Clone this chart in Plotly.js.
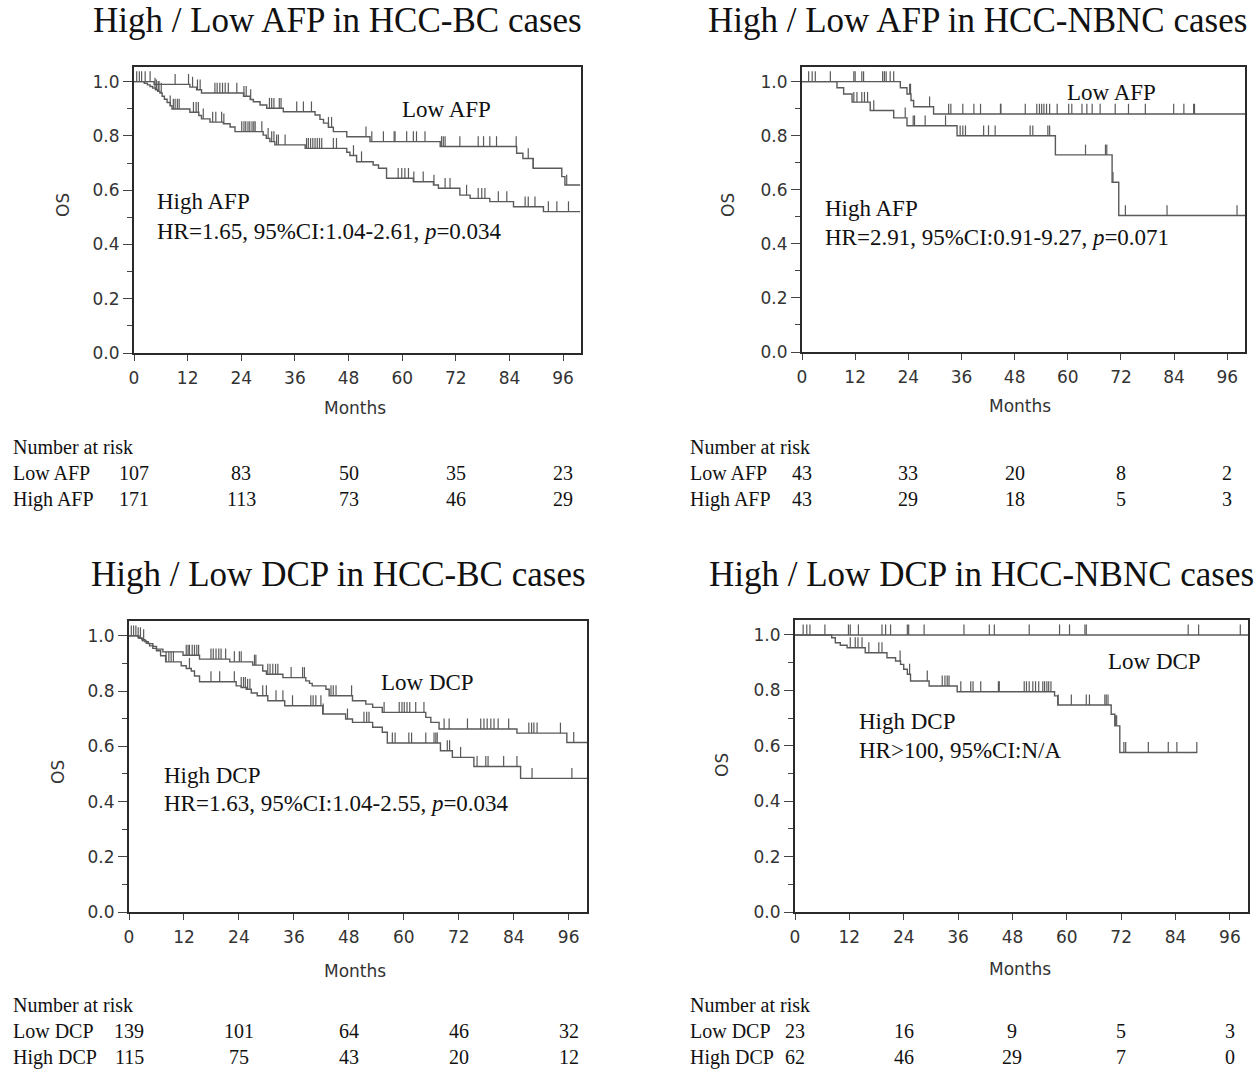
<!DOCTYPE html>
<html><head><meta charset="utf-8">
<script src="https://cdn.plot.ly/plotly-3.0.1.min.js"></script>
<style>html,body{margin:0;padding:0;background:#fff}</style>
</head><body><div id="chart" style="width:1259px;height:1071px"></div>
<script>
// ---------------- DATA ----------------
// Panel A: High / Low AFP in HCC-BC
const afpBC_low_t = [0, 4.5, 12.5, 14.0, 15.1, 24.5, 26.0, 26.7, 28.2, 29.7, 33.4, 40.5, 41.6, 42.4, 43.5, 44.6, 47.6, 52.8, 68.5, 85.6, 87.0, 89.3, 95.7, 96.4, 99.8];
const afpBC_low_s = [1.0, 0.99, 0.98, 0.97, 0.958, 0.946, 0.934, 0.926, 0.914, 0.902, 0.889, 0.877, 0.861, 0.847, 0.832, 0.816, 0.797, 0.779, 0.761, 0.736, 0.717, 0.681, 0.65, 0.619, 0.619];
const afpBC_low_c = [0.6, 1.2, 1.7, 2.5, 3.6, 9.2, 12.2, 13.1, 14.2, 14.8, 18.1, 18.6, 19.2, 19.8, 20.4, 21.1, 23.0, 24.6, 25.1, 26.1, 30.3, 30.8, 31.3, 32.5, 32.9, 36.4, 37.9, 39.7, 43.5, 44.2, 51.9, 53.2, 55.8, 58.2, 58.4, 61.0, 62.5, 63.2, 65.1, 68.8, 69.2, 69.6, 72.9, 77.0, 78.2, 79.6, 81.1, 85.5, 88.2, 89.3, 96.8];
const afpBC_high_t = [0, 2.3, 3.0, 3.6, 4.2, 4.8, 5.3, 5.8, 6.3, 6.8, 7.4, 8.1, 8.5, 12.5, 14.5, 15.1, 17.0, 20.0, 21.5, 22.6, 28.9, 29.6, 30.4, 31.5, 38.3, 47.6, 48.3, 49.8, 53.5, 54.7, 56.5, 62.5, 67.0, 68.1, 72.9, 75.2, 79.6, 84.9, 91.6, 99.8];
const afpBC_high_s = [1.0, 0.994, 0.988, 0.982, 0.976, 0.970, 0.964, 0.958, 0.946, 0.935, 0.923, 0.911, 0.899, 0.887, 0.875, 0.863, 0.851, 0.845, 0.833, 0.816, 0.803, 0.791, 0.779, 0.767, 0.754, 0.740, 0.728, 0.705, 0.693, 0.681, 0.644, 0.631, 0.619, 0.607, 0.582, 0.570, 0.558, 0.539, 0.521, 0.521];
const afpBC_high_c = [4.7, 5.0, 5.4, 5.6, 6.1, 8.1, 8.8, 9.2, 9.7, 10.1, 13.3, 13.9, 14.4, 15.5, 17.6, 18.3, 19.6, 20.1, 24.1, 24.6, 25.0, 25.5, 25.9, 26.4, 26.8, 27.1, 28.6, 30.0, 30.8, 31.3, 31.9, 32.3, 33.8, 38.6, 39.0, 39.5, 40.0, 40.5, 41.0, 41.5, 42.0, 44.6, 45.3, 49.1, 50.9, 59.1, 59.9, 60.6, 61.4, 62.6, 64.7, 67.1, 69.6, 70.7, 74.4, 77.0, 77.8, 78.5, 81.5, 83.4, 87.5, 88.2, 89.7, 92.7, 94.6, 97.2];

// Panel B: High / Low AFP in HCC-NBNC
const afpNB_low_t = [0, 22.2, 23.7, 24.6, 25.2, 29.7, 100];
const afpNB_low_s = [1.0, 0.977, 0.954, 0.930, 0.907, 0.880, 0.880];
const afpNB_low_c = [1.5, 2.3, 3.0, 6.4, 11.7, 12.0, 13.5, 13.9, 18.2, 18.6, 19.0, 19.9, 20.7, 24.3, 24.5, 28.8, 33.1, 33.6, 36.3, 38.8, 40.3, 44.8, 44.9, 50.4, 53.0, 53.6, 54.1, 54.6, 55.2, 55.9, 57.6, 60.2, 60.9, 63.2, 64.3, 65.5, 67.3, 70.7, 73.7, 77.5, 83.9, 86.2, 88.4, 88.6];
const afpNB_high_t = [0, 7.9, 9.4, 11.3, 15.4, 20.7, 23.7, 35.0, 57.2, 70.0, 71.5, 100];
const afpNB_high_s = [1.0, 0.977, 0.954, 0.924, 0.893, 0.866, 0.837, 0.800, 0.729, 0.628, 0.505, 0.505];
const afpNB_high_c = [11.7, 12.4, 13.5, 14.1, 14.8, 16.2, 23.3, 25.1, 25.4, 27.8, 32.4, 35.7, 36.3, 36.9, 41.0, 42.1, 43.6, 51.5, 52.1, 55.5, 55.9, 64.0, 68.5, 68.8, 70.2, 73.0, 82.4, 98.2];

// Panel C: High / Low DCP in HCC-BC
const dcpBC_low_t = [0, 2.0, 2.8, 3.5, 4.2, 5.2, 6.0, 7.4, 11.8, 15.4, 22.0, 27.0, 29.2, 30.0, 33.6, 38.6, 39.4, 40.0, 43.0, 43.7, 48.8, 51.7, 53.2, 55.3, 64.8, 65.9, 67.7, 84.7, 95.6, 100];
const dcpBC_low_s = [1.0, 0.993, 0.986, 0.979, 0.972, 0.962, 0.952, 0.942, 0.930, 0.916, 0.906, 0.894, 0.873, 0.861, 0.849, 0.837, 0.828, 0.819, 0.807, 0.783, 0.765, 0.753, 0.741, 0.723, 0.705, 0.687, 0.663, 0.648, 0.614, 0.614];
const dcpBC_low_c = [0.5, 1.0, 1.5, 2.0, 2.5, 3.2, 12.5, 12.9, 13.2, 13.8, 14.3, 14.8, 15.2, 17.9, 18.4, 19.0, 19.6, 20.1, 21.1, 23.0, 24.1, 24.5, 27.4, 27.7, 30.3, 30.8, 31.4, 32.0, 32.5, 35.4, 37.9, 38.3, 44.1, 44.6, 45.2, 48.6, 55.7, 59.0, 59.6, 60.1, 60.7, 61.3, 62.6, 64.4, 68.8, 69.9, 73.9, 76.8, 77.5, 78.2, 79.0, 79.7, 80.6, 82.9, 87.3, 87.9, 88.4, 89.1, 94.2, 97.1];
const dcpBC_high_t = [0, 2.2, 3.0, 3.8, 4.5, 5.2, 6.0, 6.9, 8.0, 11.4, 12.5, 13.6, 14.3, 15.4, 23.4, 24.5, 25.6, 26.7, 28.0, 30.3, 34.0, 42.3, 47.3, 48.8, 53.2, 55.3, 56.4, 68.0, 70.6, 75.3, 85.5, 100];
const dcpBC_high_s = [1.0, 0.991, 0.982, 0.973, 0.964, 0.955, 0.946, 0.928, 0.906, 0.892, 0.882, 0.873, 0.855, 0.834, 0.819, 0.813, 0.807, 0.793, 0.783, 0.765, 0.747, 0.717, 0.699, 0.687, 0.669, 0.651, 0.612, 0.584, 0.560, 0.527, 0.484, 0.484];
const dcpBC_high_c = [8.1, 8.7, 9.2, 9.7, 13.2, 17.9, 19.8, 23.0, 24.5, 25.0, 25.4, 25.9, 26.4, 29.2, 30.0, 32.1, 33.6, 35.7, 39.7, 40.2, 40.8, 41.9, 42.4, 47.7, 51.3, 51.9, 52.4, 57.5, 58.1, 61.1, 61.7, 64.8, 66.6, 67.0, 67.3, 69.5, 70.0, 72.4, 76.0, 77.9, 78.4, 81.8, 84.7, 88.0, 96.7];

// Panel D: High / Low DCP in HCC-NBNC
const dcpNB_low_t = [0, 100];
const dcpNB_low_s = [1.0, 1.0];
const dcpNB_low_c = [1.8, 2.6, 3.3, 6.6, 11.8, 12.2, 14.0, 19.2, 20.0, 21.1, 24.8, 25.1, 28.5, 37.3, 42.9, 44.0, 51.7, 58.4, 60.6, 64.0, 64.3, 86.8, 89.1, 98.3];
const dcpNB_high_t = [0, 8.1, 8.9, 10.0, 11.5, 15.5, 20.3, 22.2, 23.3, 24.0, 24.8, 25.5, 29.6, 35.8, 57.3, 58.0, 69.8, 70.6, 71.7, 88.8];
const dcpNB_high_s = [1.0, 0.990, 0.972, 0.963, 0.954, 0.936, 0.918, 0.906, 0.894, 0.876, 0.858, 0.834, 0.816, 0.795, 0.780, 0.747, 0.714, 0.672, 0.576, 0.576];
const dcpNB_high_c = [12.2, 13.3, 13.9, 14.8, 16.3, 18.5, 19.2, 23.2, 25.3, 29.2, 32.5, 33.1, 33.6, 34.0, 36.6, 38.8, 39.3, 41.0, 44.9, 45.1, 50.6, 51.1, 51.7, 52.5, 53.1, 53.8, 54.7, 55.1, 55.6, 56.0, 56.5, 58.1, 61.0, 64.3, 65.0, 68.4, 68.7, 69.1, 70.7, 71.0, 72.6, 73.0, 78.0, 82.4, 84.3, 88.7];

// Number at risk
const riskMonths = [0, 24, 48, 72, 96];
const risk_afpBC_low = [107, 83, 50, 35, 23];
const risk_afpBC_high = [171, 113, 73, 46, 29];
const risk_afpNB_low = [43, 33, 20, 8, 2];
const risk_afpNB_high = [43, 29, 18, 5, 3];
const risk_dcpBC_low = [139, 101, 64, 46, 32];
const risk_dcpBC_high = [115, 75, 43, 20, 12];
const risk_dcpNB_low = [23, 16, 9, 5, 3];
const risk_dcpNB_high = [62, 46, 29, 7, 0];

const titles = ["High / Low AFP in HCC-BC cases", "High / Low AFP in HCC-NBNC cases", "High / Low DCP in HCC-BC cases", "High / Low DCP in HCC-NBNC cases"];
const xTicks = [0, 12, 24, 36, 48, 60, 72, 84, 96];
const yTicks = [0, 0.2, 0.4, 0.6, 0.8, 1.0];

// ---------------- LAYOUT / DRAW ----------------
const W = 1259, H = 1071;
const LC = '#5a5a5a';
function survAt(t, s, x) { let v = s[0]; for (let i = 0; i < t.length; i++) { if (t[i] <= x) v = s[i]; } return v; }

const panels = [
  {ax: '', lowT: afpBC_low_t, lowS: afpBC_low_s, lowC: afpBC_low_c, highT: afpBC_high_t, highS: afpBC_high_s, highC: afpBC_high_c,
   px: [134, 581], py: [67, 353], title: titles[0], tx: 337, ty: 20,
   labLow: 'Low AFP', labHigh: 'High AFP', lowPos: [59.5, 0.896], highPos: [4.7, 0.557], hr: 'HR=1.65, 95%CI:1.04-2.61, <i>p</i>=0.034', hrY: 0.446,
   osX: 63, osY: 205, mX: 355, mY: 408, tabX: 11, tabY: 447, rowLow: risk_afpBC_low, rowHigh: risk_afpBC_high, rowNames: ['Low AFP', 'High AFP']},
  {ax: '2', lowT: afpNB_low_t, lowS: afpNB_low_s, lowC: afpNB_low_c, highT: afpNB_high_t, highS: afpNB_high_s, highC: afpNB_high_c,
   px: [802, 1245], py: [67, 352], title: titles[1], tx: 977, ty: 20,
   labLow: 'Low AFP', labHigh: 'High AFP', lowPos: [59.4, 0.959], highPos: [4.8, 0.531], hr: 'HR=2.91, 95%CI:0.91-9.27, <i>p</i>=0.071', hrY: 0.424,
   osX: 728, osY: 205, mX: 1020, mY: 406, tabX: 688, tabY: 447, rowLow: risk_afpNB_low, rowHigh: risk_afpNB_high, rowNames: ['Low AFP', 'High AFP']},
  {ax: '3', lowT: dcpBC_low_t, lowS: dcpBC_low_s, lowC: dcpBC_low_c, highT: dcpBC_high_t, highS: dcpBC_high_s, highC: dcpBC_high_c,
   px: [129, 587], py: [621, 912], title: titles[2], tx: 338, ty: 574,
   labLow: 'Low DCP', labHigh: 'High DCP', lowPos: [54.6, 0.831], highPos: [7.1, 0.496], hr: 'HR=1.63, 95%CI:1.04-2.55, <i>p</i>=0.034', hrY: 0.392,
   osX: 58, osY: 772, mX: 355, mY: 971, tabX: 11, tabY: 1005, rowLow: risk_dcpBC_low, rowHigh: risk_dcpBC_high, rowNames: ['Low DCP', 'High DCP']},
  {ax: '4', lowT: dcpNB_low_t, lowS: dcpNB_low_s, lowC: dcpNB_low_c, highT: dcpNB_high_t, highS: dcpNB_high_s, highC: dcpNB_high_c,
   px: [795, 1248], py: [620, 912], title: titles[3], tx: 981, ty: 574,
   labLow: 'Low DCP', labHigh: 'High DCP', lowPos: [68.7, 0.906], highPos: [13.7, 0.687], hr: 'HR>100, 95%CI:N/A', hrY: 0.583,
   osX: 722, osY: 765, mX: 1020, mY: 969, tabX: 688, tabY: 1005, rowLow: risk_dcpNB_low, rowHigh: risk_dcpNB_high, rowNames: ['Low DCP', 'High DCP']}
];

const traces = [];
const annotations = [];
const layout = {
  width: W, height: H, margin: {l: 0, r: 0, t: 0, b: 0}, paper_bgcolor: '#fff', plot_bgcolor: '#fff',
  showlegend: false, hovermode: false, annotations: annotations,
  font: {family: 'DejaVu Sans', color: '#333'}
};
const serif = 'Liberation Serif, Times New Roman, serif';
const sans = 'DejaVu Sans, Verdana, sans-serif';

panels.forEach(p => {
  const xa = 'x' + p.ax, ya = 'y' + p.ax;
  layout['xaxis' + p.ax] = {
    domain: [p.px[0] / W, p.px[1] / W], anchor: ya, range: [0, 100],
    tickvals: xTicks, ticktext: xTicks.map(String), ticks: 'outside', ticklen: 6, tickwidth: 1, tickcolor: '#444',
    showline: true, linewidth: 2, linecolor: '#2a2a2a', mirror: true, showgrid: false, zeroline: false,
    tickfont: {family: sans, size: 17, color: '#333'}, ticklabelstandoff: 3, fixedrange: true
  };
  layout['yaxis' + p.ax] = {
    domain: [1 - p.py[1] / H, 1 - p.py[0] / H], anchor: xa, range: [0, 1.054],
    tickvals: yTicks, tickformat: '.1f', ticks: 'outside', ticklen: 9, tickwidth: 1, tickcolor: '#444',
    minor: {tickvals: [0.1, 0.3, 0.5, 0.7, 0.9], ticks: 'outside', ticklen: 5, tickcolor: '#444', tickwidth: 1},
    showline: true, linewidth: 2, linecolor: '#2a2a2a', mirror: true, showgrid: false, zeroline: false,
    tickfont: {family: sans, size: 17, color: '#333'}, fixedrange: true
  };
  [[p.lowT, p.lowS, p.lowC], [p.highT, p.highS, p.highC]].forEach(([t, s, c]) => {
    traces.push({type: 'scatter', mode: 'lines', x: t, y: s, xaxis: xa, yaxis: ya,
      line: {shape: 'hv', color: LC, width: 1.4}, hoverinfo: 'skip'});
    traces.push({type: 'scatter', mode: 'markers', x: c, y: c.map(v => survAt(t, s, v)), xaxis: xa, yaxis: ya,
      marker: {size: 1, color: 'rgba(0,0,0,0)'}, hoverinfo: 'skip',
      error_y: {type: 'constant', value: 0.038, valueminus: 0, symmetric: false, width: 0, thickness: 1.2, color: LC}});
  });
  // titles
  annotations.push({text: p.title, xref: 'paper', yref: 'paper', x: p.tx / W, y: 1 - p.ty / H, xanchor: 'center', yanchor: 'middle',
    showarrow: false, font: {family: serif, size: 35, color: '#111'}});
  // axis labels
  annotations.push({text: 'OS', xref: 'paper', yref: 'paper', x: p.osX / W, y: 1 - p.osY / H, xanchor: 'center', yanchor: 'middle',
    textangle: -90, showarrow: false, font: {family: sans, size: 17, color: '#333'}});
  annotations.push({text: 'Months', xref: 'paper', yref: 'paper', x: p.mX / W, y: 1 - p.mY / H, xanchor: 'center', yanchor: 'middle',
    showarrow: false, font: {family: sans, size: 17, color: '#333'}});
  // in-plot labels
  annotations.push({text: p.labLow, xref: xa, yref: ya, x: p.lowPos[0], y: p.lowPos[1], xanchor: 'left', yanchor: 'middle',
    showarrow: false, font: {family: serif, size: 23, color: '#111'}});
  annotations.push({text: p.labHigh, xref: xa, yref: ya, x: p.highPos[0], y: p.highPos[1], xanchor: 'left', yanchor: 'middle',
    showarrow: false, font: {family: serif, size: 23, color: '#111'}});
  annotations.push({text: p.hr, xref: xa, yref: ya, x: p.highPos[0], y: p.hrY, xanchor: 'left', yanchor: 'middle',
    showarrow: false, font: {family: serif, size: 23, color: '#111'}});
  // number at risk
  annotations.push({text: 'Number at risk', xref: 'paper', yref: 'paper', x: p.tabX / W, y: 1 - p.tabY / H, xanchor: 'left', yanchor: 'middle',
    showarrow: false, font: {family: serif, size: 20, color: '#111'}});
  [p.rowLow, p.rowHigh].forEach((row, r) => {
    const yy = 1 - (p.tabY + 26 * (r + 1)) / H;
    annotations.push({text: p.rowNames[r], xref: 'paper', yref: 'paper', x: p.tabX / W, y: yy, xanchor: 'left', yanchor: 'middle',
      showarrow: false, font: {family: serif, size: 20, color: '#111'}});
    row.forEach((v, i) => {
      annotations.push({text: String(v), xref: xa, yref: 'paper', x: riskMonths[i], y: yy, xanchor: 'center', yanchor: 'middle',
        showarrow: false, font: {family: serif, size: 20, color: '#111'}});
    });
  });
});

Plotly.newPlot('chart', traces, layout, {staticPlot: true, displayModeBar: false});
</script></body></html>
